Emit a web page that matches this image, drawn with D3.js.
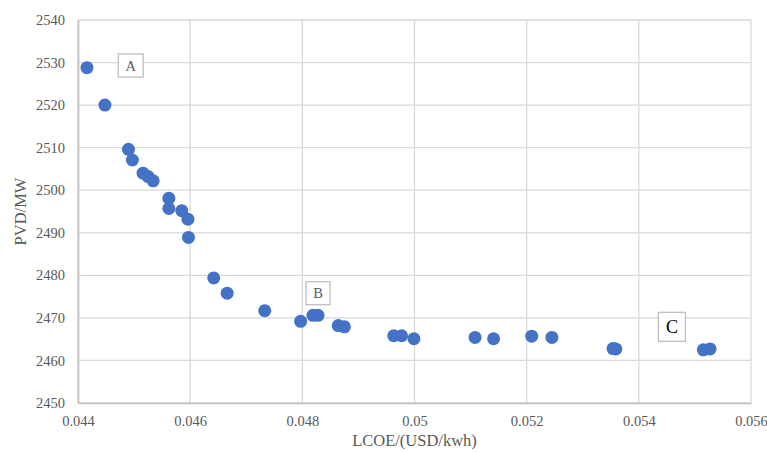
<!DOCTYPE html>
<html>
<head>
<meta charset="utf-8">
<script src="https://cdn.jsdelivr.net/npm/d3@7"></script>
<style>
  html, body { margin: 0; padding: 0; background: #fff; }
  svg { display: block; }
  text { font-family: "Liberation Serif", "Times New Roman", Times, "DejaVu Serif", serif; }
</style>
</head>
<body>
<svg id="chart" width="767" height="452"></svg>
<script>
// Pareto front: levelised cost of energy vs. PV capacity
const lcoe = [
  0.04416, 0.04448, 0.04490, 0.04497, 0.04516, 0.04525, 0.04534, 0.04562,
  0.04562, 0.04585, 0.04596, 0.04597, 0.04642, 0.04666, 0.04733, 0.04797,
  0.04819, 0.04828, 0.04864, 0.04875, 0.04963, 0.04977, 0.04999, 0.05108,
  0.05141, 0.05209, 0.05245, 0.05354, 0.05359, 0.05515, 0.05527
];
const pvd = [
  2528.8, 2520.0, 2509.6, 2507.1, 2504.0, 2503.2, 2502.2, 2498.1,
  2495.7, 2495.2, 2493.2, 2488.9, 2479.4, 2475.8, 2471.7, 2469.2,
  2470.6, 2470.6, 2468.2, 2467.9, 2465.8, 2465.8, 2465.1, 2465.4,
  2465.1, 2465.7, 2465.4, 2462.8, 2462.7, 2462.5, 2462.7
];
const xTicks = [0.044, 0.046, 0.048, 0.05, 0.052, 0.054, 0.056];
const yTicks = [2450, 2460, 2470, 2480, 2490, 2500, 2510, 2520, 2530, 2540];
const markerLabels = ["A", "B", "C"];
// centre of each marker label box, in data units
const markerX = [0.04494, 0.04828, 0.05459];
const markerY = [2529.3, 2475.8, 2467.9];

const svg = d3.select("#chart");
const margin = { left: 78, right: 16, top: 20, bottom: 49 };
const W = 767, H = 452;

const x = d3.scaleLinear().domain([0.044, 0.056]).range([margin.left, W - margin.right]);
const y = d3.scaleLinear().domain([2450, 2540]).range([H - margin.bottom, margin.top]);

// gridlines
const grid = svg.append("g");
grid.selectAll("line.h").data(yTicks).join("line")
  .attr("x1", x(0.044)).attr("x2", x(0.056))
  .attr("y1", d => y(d)).attr("y2", d => y(d))
  .attr("stroke", "#d9d9d9").attr("stroke-width", 1.3);
grid.selectAll("line.v").data(xTicks).join("line")
  .attr("y1", y(2450)).attr("y2", y(2540))
  .attr("x1", d => x(d)).attr("x2", d => x(d))
  .attr("stroke", "#d9d9d9").attr("stroke-width", 1.3);

// axes
const xAxis = d3.axisBottom(x).tickValues(xTicks).tickSize(0).tickPadding(13)
  .tickFormat(d => String(+d.toFixed(3)));
const yAxis = d3.axisLeft(y).tickValues(yTicks).tickSize(0).tickPadding(13)
  .tickFormat(d3.format("d"));

const gx = svg.append("g").attr("transform", `translate(0,${y(2450)})`).call(xAxis);
const gy = svg.append("g").attr("transform", `translate(${x(0.044)},0)`).call(yAxis);
[gx, gy].forEach(g => {
  g.attr("font-family", null);
  g.select(".domain").attr("stroke", "#bfbfbf").attr("stroke-width", 1.6);
  g.selectAll("text").attr("fill", "#595959").attr("font-size", 14.5);
});

// axis titles
svg.append("text")
  .attr("x", (x(0.044) + x(0.056)) / 2).attr("y", 446)
  .attr("text-anchor", "middle").attr("font-size", 16.5).attr("fill", "#595959")
  .text("LCOE/(USD/kwh)");
svg.append("text")
  .attr("transform", `translate(26,${(y(2450) + y(2540)) / 2}) rotate(-90)`)
  .attr("text-anchor", "middle").attr("font-size", 16.5).attr("fill", "#595959")
  .text("PVD/MW");

// points
svg.append("g").selectAll("circle").data(d3.range(lcoe.length)).join("circle")
  .attr("cx", i => x(lcoe[i])).attr("cy", i => y(pvd[i]))
  .attr("r", 6.5).attr("fill", "#4472c4");

// boxed marker labels
const boxW = [25, 24, 27], boxH = [23, 23, 29];
const tags = svg.append("g").selectAll("g").data(markerLabels).join("g")
  .attr("transform", (d, i) => `translate(${x(markerX[i])},${y(markerY[i])})`);
tags.append("rect")
  .attr("x", (d, i) => -boxW[i] / 2).attr("y", (d, i) => -boxH[i] / 2)
  .attr("width", (d, i) => boxW[i]).attr("height", (d, i) => boxH[i])
  .attr("fill", "#fff").attr("stroke", "#bfbfbf").attr("stroke-width", 1.3);
tags.append("text")
  .attr("text-anchor", "middle").attr("dy", "0.35em")
  .attr("font-size", (d, i) => i === 2 ? 18 : 14.5)
  .attr("fill", (d, i) => i === 2 ? "#000" : "#595959")
  .text(d => d);
</script>
</body>
</html>
